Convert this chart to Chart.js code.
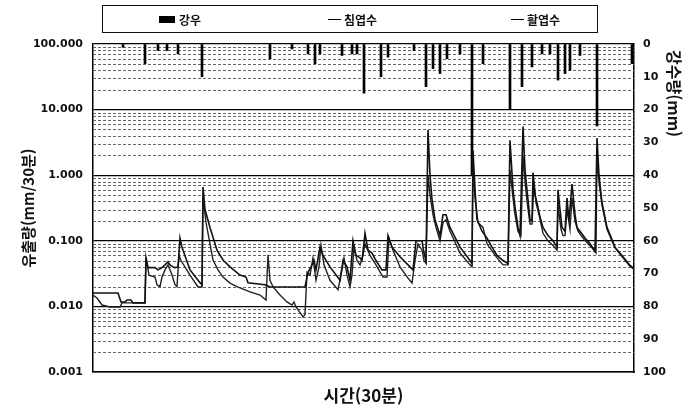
<!DOCTYPE html>
<html lang="ko">
<head>
<meta charset="utf-8">
<title>유출량과 강수량</title>
<script src="https://cdn.jsdelivr.net/npm/chart.js@4.4.1/dist/chart.umd.min.js"></script>
<style>
  html, body { margin: 0; padding: 0; background: #fff; }
  #wrap { position: relative; width: 696px; height: 408px; }
  #legend {
    position: absolute; left: 102px; top: 5px; width: 494px; height: 26px;
    border: 1.5px solid #111; font: bold 12px "Noto Sans CJK KR", sans-serif; color: #111;
  }
  .item { position: absolute; top: 0; height: 26px; display: flex; align-items: center; }
  .swatch-bar { width: 16px; height: 7px; background: #000; margin-right: 4px; }
  .swatch-line { width: 13px; height: 0; border-top: 1.5px solid #000; margin-right: 3px; }
</style>
</head>
<body>
<div id="wrap">
  <canvas id="flowChart" width="696" height="408"></canvas>
  <div id="legend">
    <div class="item" style="left:56px"><span class="swatch-bar"></span>강우</div>
    <div class="item" style="left:225px"><span class="swatch-line"></span>침엽수</div>
    <div class="item" style="left:408px"><span class="swatch-line"></span>활엽수</div>
  </div>
</div>
<script>
// time step (30 min) and runoff (mm/30min) for the coniferous catchment
const conTime = [0, 25, 28, 32, 34, 38, 40, 52,
  53, 55, 62, 65, 69, 72, 75, 77, 80, 82, 85, 87, 89, 97, 107, 109,
  110, 112, 117, 124, 130, 137, 147, 153, 155, 172, 177,
  212, 215, 219, 221, 223, 227, 230, 237, 247, 250, 254, 257, 260, 263, 267, 269, 272, 275, 279, 283, 289, 293, 295, 299, 307, 317, 320, 323, 329, 331, 333,
  335, 337, 339, 342, 347, 350, 353, 357, 367, 377, 379,
  380, 382, 384, 389, 394, 399, 404, 410, 415,
  417, 420, 422, 425, 427, 430, 432, 434, 437, 439, 440, 442, 444, 447, 450, 455, 460, 464,
  465, 467, 469, 472, 474, 476, 479, 482, 484, 487, 492, 497, 502,
  504, 506, 509, 514, 522, 530, 537, 541];
const conFlow = [0.016, 0.016, 0.0117, 0.0117, 0.0125, 0.0125, 0.0113, 0.0113,
  0.055, 0.039, 0.039, 0.036, 0.039, 0.043, 0.048, 0.043, 0.040, 0.039, 0.040, 0.11, 0.08, 0.036, 0.023, 0.0214,
  0.66, 0.30, 0.16, 0.072, 0.051, 0.040, 0.030, 0.028, 0.023, 0.0214, 0.0198,
  0.0198, 0.033, 0.043, 0.05, 0.036, 0.08, 0.06, 0.040, 0.025, 0.05, 0.040, 0.025, 0.10, 0.06, 0.055, 0.05, 0.13, 0.072, 0.065, 0.050, 0.036, 0.036, 0.12, 0.08, 0.057, 0.040, 0.036, 0.10, 0.10, 0.065, 0.05,
  4.9, 1.0, 0.43, 0.21, 0.12, 0.25, 0.25, 0.16, 0.08, 0.05, 0.045,
  2.4, 0.6, 0.21, 0.14, 0.11, 0.08, 0.06, 0.05, 0.045,
  3.4, 0.6, 0.33, 0.16, 0.12, 5.5, 1.2, 0.6, 0.21, 0.2, 1.1, 0.5, 0.38, 0.23, 0.16, 0.12, 0.10, 0.08,
  0.6, 0.3, 0.16, 0.14, 0.45, 0.2, 0.73, 0.25, 0.16, 0.14, 0.11, 0.09, 0.07,
  3.7, 1.0, 0.38, 0.16, 0.08, 0.057, 0.042, 0.038];

// time step and runoff for the broadleaf catchment
const broadTime = [0, 4, 9, 17, 27, 29, 52,
  53, 56, 62, 64, 67, 69, 72, 75, 79, 82, 84, 86, 88, 97, 105, 109,
  110, 113, 117, 120, 125, 130, 137, 144, 157, 167, 173,
  175, 177, 180, 187, 194, 199, 201, 203, 210, 212,
  214, 217, 220, 223, 226, 228, 231, 237, 245, 248, 251, 254, 257, 259, 261, 264, 267, 270, 272, 277, 283, 290, 294, 296, 300, 307, 315, 319, 322, 325, 329, 331, 333,
  335, 337, 340, 343, 347, 350, 353, 357, 367, 377, 379,
  380, 382, 385, 390, 394, 399, 404, 410, 415,
  417, 420, 422, 425, 428, 430, 432, 434, 437, 439, 441, 443, 446, 450, 455, 460, 464,
  465, 468, 470, 472, 474, 477, 479, 482, 485, 490, 495, 499, 503,
  504, 506, 509, 514, 522, 530, 537, 541];
const broadFlow = [0.0149, 0.0134, 0.0105, 0.0098, 0.0098, 0.0113, 0.0113,
  0.055, 0.030, 0.028, 0.0214, 0.020, 0.028, 0.036, 0.043, 0.030, 0.0214, 0.020, 0.06, 0.05, 0.030, 0.0198, 0.0198,
  0.45, 0.19, 0.09, 0.051, 0.036, 0.028, 0.0227, 0.020, 0.0166, 0.0149, 0.0125,
  0.061, 0.025, 0.0198, 0.0149, 0.0117, 0.0105, 0.0117, 0.0098, 0.0069, 0.0075,
  0.033, 0.030, 0.055, 0.025, 0.040, 0.086, 0.043, 0.025, 0.018, 0.030, 0.055, 0.030, 0.020, 0.030, 0.080, 0.05, 0.043, 0.060, 0.09, 0.060, 0.043, 0.028, 0.028, 0.11, 0.072, 0.040, 0.027, 0.0227, 0.05, 0.09, 0.072, 0.05, 0.045,
  1.0, 0.50, 0.25, 0.16, 0.10, 0.19, 0.21, 0.14, 0.065, 0.043, 0.040,
  1.5, 0.45, 0.19, 0.16, 0.09, 0.07, 0.055, 0.043, 0.043,
  1.2, 0.45, 0.25, 0.14, 0.12, 2.0, 0.8, 0.4, 0.18, 0.18, 0.8, 0.38, 0.25, 0.13, 0.10, 0.085, 0.072,
  0.35, 0.15, 0.12, 0.12, 0.30, 0.15, 0.45, 0.2, 0.14, 0.11, 0.09, 0.078, 0.065,
  2.0, 0.8, 0.35, 0.15, 0.078, 0.055, 0.041, 0.037];

// rainfall (mm/30min)
const rainTime = [30, 52, 65, 74, 85, 109, 177, 199, 215, 222, 227, 249, 259, 264, 271, 288, 295, 321,
  333, 340, 347, 354, 367, 379, 390, 417, 429, 439, 449, 457, 465, 472, 477, 487, 504, 539];
const rainAmt = [1, 6, 2, 2, 3, 10, 4.5, 1.5, 3, 6, 3, 3.5, 3, 3, 15, 10, 4, 2,
  13, 7.5, 9, 4.5, 3, 40, 6, 20, 13, 7, 3, 3, 11, 9, 8, 3.5, 25, 6];

const flowTicks = [0.001, 0.01, 0.1, 1, 10, 100];
const rainTicks = [0, 10, 20, 30, 40, 50, 60, 70, 80, 90, 100];

// log axis grid: 1..9 in each decade
const flowGrid = [];
flowTicks.slice(0, -1).forEach(d => {
  for (let k = 1; k <= 9; k++) flowGrid.push(Number((d * k).toPrecision(3)));
});
flowGrid.push(flowTicks[flowTicks.length - 1]);

function isDecade(v) {
  const l = Math.log10(v);
  return Math.abs(l - Math.round(l)) < 1e-9;
}

const pairs = (xs, ys) => xs.map((x, i) => ({ x: x, y: ys[i] }));

const labelFont = { family: '"DejaVu Sans", sans-serif', size: 11, weight: 'bold' };
const titleFont = (size) => ({ family: '"Noto Sans CJK KR", sans-serif', size: size, weight: 'bold' });

// dotted minor lines between the decades, and the right axis title read downwards from the top
const extras = {
  id: 'extras',
  beforeDatasetsDraw(chart) {
    const { ctx, chartArea, scales } = chart;
    const y = scales.y;
    ctx.save();
    ctx.strokeStyle = '#666';
    ctx.lineWidth = 1;
    ctx.setLineDash([3, 2]);
    y.ticks.forEach(t => {
      if (isDecade(t.value)) return;
      const py = Math.round(y.getPixelForValue(t.value)) + 0.5;
      ctx.beginPath();
      ctx.moveTo(chartArea.left, py);
      ctx.lineTo(chartArea.right, py);
      ctx.stroke();
    });
    ctx.restore();
  },
  afterDraw(chart) {
    const { ctx, chartArea } = chart;
    ctx.save();
    ctx.translate(chart.width - 22, chartArea.top + 6);
    ctx.rotate(Math.PI / 2);
    ctx.fillStyle = '#111';
    ctx.font = 'bold 16px "Noto Sans CJK KR", sans-serif';
    ctx.textAlign = 'left';
    ctx.textBaseline = 'middle';
    ctx.fillText('강수량(mm)', 0, 0);
    ctx.restore();
  }
};

new Chart(document.getElementById('flowChart'), {
  type: 'bar',
  data: {
    datasets: [
      {
        type: 'line', label: '침엽수', data: pairs(conTime, conFlow), yAxisID: 'y',
        borderColor: '#111', borderWidth: 1.6, pointRadius: 0, tension: 0, order: 1
      },
      {
        type: 'line', label: '활엽수', data: pairs(broadTime, broadFlow), yAxisID: 'y',
        borderColor: '#222', borderWidth: 1.4, pointRadius: 0, tension: 0, order: 1
      },
      {
        type: 'bar', label: '강우', data: pairs(rainTime, rainAmt), yAxisID: 'y2',
        backgroundColor: '#000', barThickness: 2, order: 2
      }
    ]
  },
  options: {
    responsive: false,
    animation: false,
    layout: { padding: { top: 44, left: 0, right: 0, bottom: 0 } },
    plugins: { legend: { display: false }, tooltip: { enabled: false } },
    scales: {
      x: {
        type: 'linear', min: 0, max: 541, offset: false,
        grid: { display: false },
        ticks: { display: false },
        border: { display: true, color: '#000', width: 1.5 },
        title: { display: true, text: '시간(30분)', font: titleFont(17), color: '#111', padding: { top: 0, bottom: 2 } },
        afterFit(s) { s.height = 36; }
      },
      y: {
        type: 'logarithmic', position: 'left', min: 0.001, max: 100,
        afterBuildTicks(s) { s.ticks = flowGrid.map(v => ({ value: v })); },
        ticks: {
          autoSkip: false, padding: 10, color: '#111', font: labelFont,
          callback: (v) => isDecade(v) ? v.toFixed(3) : ''
        },
        grid: {
          drawTicks: false, lineWidth: 1.2,
          color: (c) => isDecade(c.tick.value) ? '#000' : 'rgba(0,0,0,0)'
        },
        border: { display: true, color: '#000', width: 1.5 },
        title: { display: true, text: '유출량(mm/30분)', font: titleFont(15), color: '#111', padding: { top: 19, bottom: 0 } },
        afterFit(s) { s.width = 93; }
      },
      y2: {
        type: 'linear', position: 'right', reverse: true, min: 0, max: 100,
        afterBuildTicks(s) { s.ticks = rainTicks.map(v => ({ value: v })); },
        ticks: { padding: 9, color: '#111', font: labelFont },
        grid: { drawOnChartArea: false, drawTicks: false },
        border: { display: true, color: '#000', width: 1.5 },
        title: { display: false },
        afterFit(s) { s.width = 62; }
      }
    }
  },
  plugins: [extras]
});
</script>
</body>
</html>
